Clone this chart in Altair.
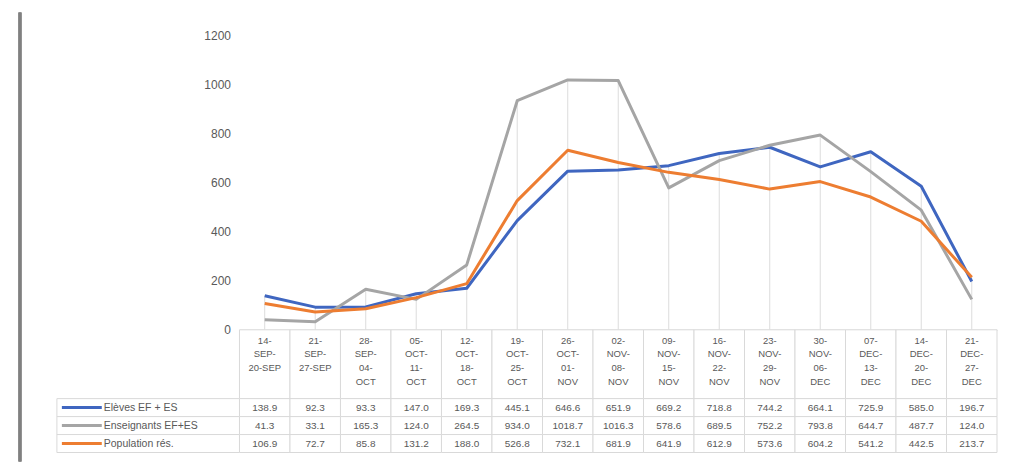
import altair as alt
import pandas as pd

categories = ["14-SEP-20-SEP", "21-SEP-27-SEP", "28-SEP-04-OCT", "05-OCT-11-OCT",
              "12-OCT-18-OCT", "19-OCT-25-OCT", "26-OCT-01-NOV", "02-NOV-08-NOV",
              "09-NOV-15-NOV", "16-NOV-22-NOV", "23-NOV-29-NOV", "30-NOV-06-DEC",
              "07-DEC-13-DEC", "14-DEC-20-DEC", "21-DEC-27-DEC"]
header_labels = ["14-\nSEP-\n20-SEP", "21-\nSEP-\n27-SEP", "28-\nSEP-\n04-\nOCT",
                 "05-\nOCT-\n11-\nOCT", "12-\nOCT-\n18-\nOCT", "19-\nOCT-\n25-\nOCT",
                 "26-\nOCT-\n01-\nNOV", "02-\nNOV-\n08-\nNOV", "09-\nNOV-\n15-\nNOV",
                 "16-\nNOV-\n22-\nNOV", "23-\nNOV-\n29-\nNOV", "30-\nNOV-\n06-\nDEC",
                 "07-\nDEC-\n13-\nDEC", "14-\nDEC-\n20-\nDEC", "21-\nDEC-\n27-\nDEC"]
series_names = ["Elèves EF + ES", "\u00a0\u00a0Enseignants EF+ES", "Population rés."]
eleves = [138.9, 92.3, 93.3, 147.0, 169.3, 445.1, 646.6, 651.9, 669.2, 718.8,
          744.2, 664.1, 725.9, 585.0, 196.7]
enseignants = [41.3, 33.1, 165.3, 124.0, 264.5, 934.0, 1018.7, 1016.3, 578.6, 689.5,
               752.2, 793.8, 644.7, 487.7, 124.0]
population = [106.9, 72.7, 85.8, 131.2, 188.0, 526.8, 732.1, 681.9, 641.9, 612.9,
              573.6, 604.2, 541.2, 442.5, 213.7]
colors = ["#3F66C0", "#A5A5A5", "#ED7D31"]
y_ticks = [0, 200, 400, 600, 800, 1000, 1200]

records = []
for name, vals in zip(series_names, [eleves, enseignants, population]):
    for c, v in zip(categories, vals):
        records.append({"series": name, "cat": c, "value": v})
df = pd.DataFrame(records)
hdr = pd.DataFrame({"cat": categories, "label": header_labels})
leg = pd.DataFrame({"series": series_names})

W = 759.3
H = 295
FONT = "Liberation Sans"
GRID = "#d9d9d9"
TXT = "#595959"

color = alt.Color("series:N", scale=alt.Scale(domain=series_names, range=colors), legend=None)

x_pt = alt.X("cat:N", sort=categories,
             scale=alt.Scale(type="point", padding=0.5, domain=categories),
             axis=alt.Axis(title=None, labels=False, ticks=False, grid=False,
                           domainColor=GRID, domainWidth=1))
y_val = alt.Y("value:Q", scale=alt.Scale(domain=[0, 1200], nice=False),
              axis=alt.Axis(values=y_ticks, format="d", title=None, grid=False, domain=False,
                            ticks=False, labelPadding=9, labelFontSize=12, labelColor=TXT,
                            labelFont=FONT))

frame = alt.Chart(leg).mark_rule(color="#808080", strokeWidth=3).encode(
    x=alt.value(-220), y=alt.value(-23), y2=alt.value(427))

drop = alt.Chart(df).mark_rule(color="#dcdcdc", strokeWidth=1).encode(
    x=x_pt, y=alt.Y("max(value):Q"), y2=alt.datum(0))

lines = alt.Chart(df).mark_line(strokeWidth=3, strokeJoin="round").encode(
    x=x_pt, y=y_val, color=color)

top = alt.layer(frame, drop, lines).properties(width=W, height=H)

x_band = alt.X("cat:N", sort=categories,
               scale=alt.Scale(type="band", paddingInner=0, paddingOuter=0, domain=categories),
               axis=None)

hdr_cells = alt.Chart(hdr).mark_rect(fill="white", stroke=GRID, strokeWidth=1).encode(x=x_band)
hdr_text = alt.Chart(hdr).mark_text(baseline="top", lineBreak="\n", fontSize=9.5, lineHeight=13.7,
                                     color=TXT, font=FONT).encode(
    x=x_band, y=alt.value(6), text="label:N")
header = alt.layer(hdr_cells, hdr_text).properties(width=W, height=69)

y_row = alt.Y("series:N", sort=series_names,
              scale=alt.Scale(type="band", paddingInner=0, paddingOuter=0, domain=series_names),
              axis=None)
y_row_c = alt.Y("series:N", sort=series_names, bandPosition=0.5,
                scale=alt.Scale(type="band", paddingInner=0, paddingOuter=0, domain=series_names),
                axis=None)

cells = alt.Chart(df).mark_rect(fill="white", stroke=GRID, strokeWidth=1).encode(x=x_band, y=y_row)
vals = alt.Chart(df).mark_text(fontSize=10, color=TXT, font=FONT).encode(
    x=x_band, y=y_row_c, text=alt.Text("value:Q", format=".1f"))
leg_cells = alt.Chart(leg).mark_rect(fill="white", stroke=GRID, strokeWidth=1).encode(
    x=alt.value(-183), x2=alt.value(0), y=y_row)
swatch = alt.Chart(leg).mark_rule(strokeWidth=3).encode(
    x=alt.value(-178), x2=alt.value(-138), y=y_row_c, color=color)
leg_text = alt.Chart(leg).mark_text(align="left", fontSize=10.5, color=TXT, font=FONT).encode(
    x=alt.value(-136), y=y_row_c, text="series:N")
table = alt.layer(cells, vals, leg_cells, swatch, leg_text).properties(width=W, height=54)

chart = alt.vconcat(top, header, table, spacing=0, bounds="flush").resolve_scale(
    x="independent", y="independent"
).properties(
    padding={"left": 10, "top": 2, "right": 5, "bottom": 0}
).configure_view(stroke=None).configure_text(font=FONT)

chart.save("out.html", embed_options={"renderer": "svg", "actions": False})
